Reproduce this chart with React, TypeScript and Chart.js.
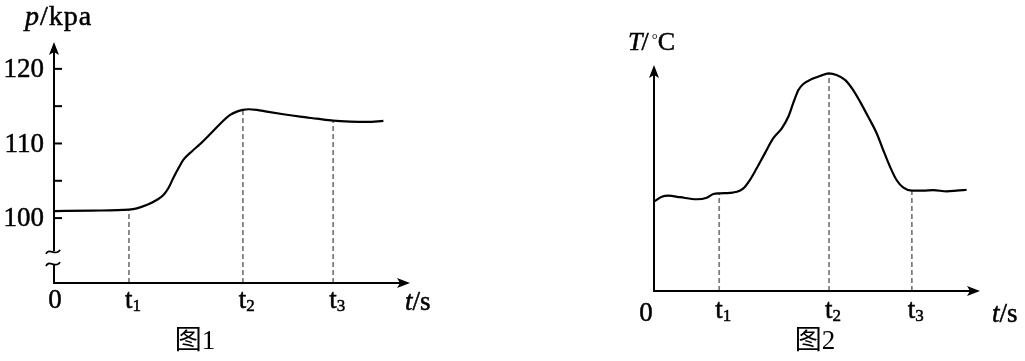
import React, { useEffect, useRef } from "react";
import { Chart, registerables } from "chart.js";

Chart.register(...registerables);

// ---------- Figure 1: pressure p (kPa) against time t (arbitrary units) ----------
const pTimes = [0, 1.0, 2.0, 2.21, 2.47, 2.74, 2.92, 3.05, 3.18, 3.32, 3.45, 3.67, 3.9, 4.17, 4.43, 4.7, 4.88, 5.04, 5.19, 5.41, 5.68, 6.12, 6.57, 7.01, 7.45, 7.9, 8.35, 8.79];
const pValues = [100.94, 101.0, 101.14, 101.3, 101.74, 102.42, 103.09, 103.99, 105.33, 106.67, 107.79, 108.9, 109.93, 111.28, 112.62, 113.83, 114.27, 114.5, 114.59, 114.5, 114.27, 113.92, 113.6, 113.33, 113.06, 112.93, 112.89, 113.02];
const pMarkTimes = [2.0, 5.04, 7.45];
const pMarkValues = [101.14, 114.5, 113.06];
const pTickValues = [100, 105, 110, 115, 120];
const pTickLabels = ["100", "", "110", "", "120"];
const pBreak = [95.6, 93.7];

// ---------- Figure 2: temperature T (arbitrary units) against time t ----------
const tTimes = [0, 0.24, 0.44, 0.8, 1.31, 1.62, 1.82, 2.02, 2.33, 2.54, 2.74, 2.94, 3.15, 3.4, 3.66, 3.92, 4.12, 4.27, 4.43, 4.58, 4.84, 5.09, 5.36, 5.6, 5.86, 6.11, 6.32, 6.57, 6.83, 7.03, 7.24, 7.44, 7.65, 7.91, 8.26, 8.57, 8.98, 9.28, 9.59];
const tValues = [39.6, 41.7, 42.2, 41.5, 40.6, 41.3, 42.9, 43.2, 43.4, 43.9, 45.4, 49.1, 54.3, 60.9, 67.6, 72.0, 77.1, 83.1, 88.9, 91.6, 93.8, 95.1, 96.3, 95.6, 93.4, 88.9, 83.8, 77.1, 69.8, 62.4, 55.0, 49.1, 45.7, 44.4, 44.4, 44.6, 44.1, 44.4, 44.8];
const tMarkTimes = [2.0, 5.37, 7.91];
const tMarkValues = [43.2, 96.3, 44.4];

const markNames = ["1", "2", "3"];

const SERIF = "'Liberation Serif', 'Times New Roman', serif";
const SERIF_CJK = "'Liberation Serif', 'Noto Sans CJK SC', serif";
const FS = 27;

type Fig = {
  xMin: number; xMax: number; yMin: number; yMax: number;
  times: number[]; values: number[]; markTimes: number[]; markValues: number[];
  ticks: number[]; tickLabels: string[]; brk: number[] | null;
  draw: (chart: any) => void;
};

// filled text with a hair stroke, to match the heavier print of the reference
function txt(ctx: CanvasRenderingContext2D, s: string, x: number, y: number) {
  ctx.fillText(s, x, y);
  ctx.save();
  ctx.lineWidth = 0.5;
  ctx.strokeStyle = "#000";
  ctx.strokeText(s, x, y);
  ctx.restore();
}

function arrow(ctx: CanvasRenderingContext2D, x: number, y: number, dir: "up" | "right") {
  const L = 13, W = 5, N = 3;
  ctx.beginPath();
  if (dir === "right") {
    ctx.moveTo(x, y); ctx.lineTo(x - L, y - W); ctx.lineTo(x - L + N, y); ctx.lineTo(x - L, y + W);
  } else {
    ctx.moveTo(x, y); ctx.lineTo(x - W, y + L); ctx.lineTo(x, y + L - N); ctx.lineTo(x + W, y + L);
  }
  ctx.closePath();
  ctx.fill();
}

function tilde(ctx: CanvasRenderingContext2D, x: number, y: number) {
  ctx.beginPath();
  ctx.moveTo(x - 7, y + 2);
  ctx.bezierCurveTo(x - 4, y - 5, x + 3, y + 5, x + 7, y - 2);
  ctx.stroke();
}

function tLabel(ctx: CanvasRenderingContext2D, x: number, base: number, sub: string) {
  ctx.textAlign = "left";
  ctx.textBaseline = "alphabetic";
  ctx.font = `${FS}px ${SERIF}`;
  txt(ctx, "t", x - 4, base);
  const w = ctx.measureText("t").width;
  ctx.font = `17px ${SERIF}`;
  txt(ctx, sub, x - 4 + w, base + 3);
}

function unitLabel(ctx: CanvasRenderingContext2D, x: number, base: number, italicPart: string, rest: string, size: number, spacing: number) {
  ctx.textAlign = "left";
  ctx.textBaseline = "alphabetic";
  (ctx as any).letterSpacing = `${spacing}px`;
  ctx.font = `italic ${size}px ${SERIF}`;
  txt(ctx, italicPart, x, base);
  const w = ctx.measureText(italicPart).width;
  ctx.font = `${size}px ${SERIF}`;
  txt(ctx, rest, x + w, base);
  (ctx as any).letterSpacing = "0px";
}

function drawAxes(chart: any, fig: Fig) {
  const ctx: CanvasRenderingContext2D = chart.ctx;
  const xs = chart.scales.x, ys = chart.scales.y;
  const x0 = xs.getPixelForValue(fig.xMin);
  const xEnd = xs.getPixelForValue(fig.xMax);
  const y0 = ys.getPixelForValue(fig.yMin);
  const yEnd = ys.getPixelForValue(fig.yMax);
  ctx.save();
  ctx.strokeStyle = "#000";
  ctx.fillStyle = "#000";
  ctx.lineWidth = 2;
  ctx.lineCap = "butt";
  ctx.beginPath();
  ctx.moveTo(x0 - 1, y0);
  ctx.lineTo(xEnd - 8, y0);
  ctx.stroke();
  arrow(ctx, xEnd, y0, "right");
  ctx.beginPath();
  if (fig.brk) {
    const b1 = ys.getPixelForValue(fig.brk[0]);
    const b2 = ys.getPixelForValue(fig.brk[1]);
    ctx.moveTo(x0, y0);
    ctx.lineTo(x0, b2);
    ctx.moveTo(x0, b1);
    ctx.lineTo(x0, yEnd + 8);
    ctx.stroke();
    ctx.lineWidth = 1.8;
    tilde(ctx, x0 - 1, b1 + 1);
    tilde(ctx, x0 - 1, b2 - 1);
  } else {
    ctx.moveTo(x0, y0);
    ctx.lineTo(x0, yEnd + 8);
    ctx.stroke();
  }
  arrow(ctx, x0, yEnd, "up");
  ctx.lineWidth = 2;
  fig.ticks.forEach((v, i) => {
    const y = ys.getPixelForValue(v);
    ctx.beginPath();
    ctx.moveTo(x0, y);
    ctx.lineTo(x0 + 8, y);
    ctx.stroke();
    if (fig.tickLabels[i]) {
      ctx.font = `${FS}px ${SERIF}`;
      ctx.textAlign = "right";
      ctx.textBaseline = "middle";
      txt(ctx, fig.tickLabels[i], x0 - 10, y + 1);
    }
  });
  ctx.restore();
}

const fig1: Fig = {
  xMin: 0, xMax: 9.5, yMin: 91.3, yMax: 123.6,
  times: pTimes, values: pValues, markTimes: pMarkTimes, markValues: pMarkValues,
  ticks: pTickValues, tickLabels: pTickLabels, brk: pBreak,
  draw: (chart: any) => {
    const ctx: CanvasRenderingContext2D = chart.ctx;
    const xs = chart.scales.x, ys = chart.scales.y;
    const left = xs.getPixelForValue(0);
    const right = xs.getPixelForValue(9.5);
    const bottom = ys.getPixelForValue(91.3);
    const top = ys.getPixelForValue(123.6);
    ctx.save();
    ctx.fillStyle = "#000";
    unitLabel(ctx, left - 29, top - 17, "p", "/kpa", 28, 1);
    ctx.font = `${FS}px ${SERIF}`;
    ctx.textAlign = "center";
    ctx.textBaseline = "alphabetic";
    txt(ctx, "0", left + 1, bottom + 25);
    pMarkTimes.forEach((t, i) => tLabel(ctx, xs.getPixelForValue(t), bottom + 25, markNames[i]));
    unitLabel(ctx, right - 5, bottom + 27, "t", "/s", FS, 0);
    ctx.font = `${FS}px ${SERIF_CJK}`;
    ctx.textAlign = "center";
    ctx.textBaseline = "middle";
    ctx.fillText("图1", left + 141, bottom + 59);
    ctx.restore();
  },
};

const fig2: Fig = {
  xMin: 0, xMax: 10, yMin: 0, yMax: 100,
  times: tTimes, values: tValues, markTimes: tMarkTimes, markValues: tMarkValues,
  ticks: [], tickLabels: [], brk: null,
  draw: (chart: any) => {
    const ctx: CanvasRenderingContext2D = chart.ctx;
    const xs = chart.scales.x, ys = chart.scales.y;
    const left = xs.getPixelForValue(0);
    const right = xs.getPixelForValue(10);
    const bottom = ys.getPixelForValue(0);
    const top = ys.getPixelForValue(100);
    ctx.save();
    ctx.fillStyle = "#000";
    // T/℃ drawn as italic T, slash, raised degree sign and serif C
    const tx = left - 26, tb = top - 15;
    ctx.textAlign = "left";
    ctx.textBaseline = "alphabetic";
    ctx.font = `italic 26px ${SERIF}`;
    txt(ctx, "T", tx, tb);
    let cx = tx + ctx.measureText("T").width;
    ctx.font = `26px ${SERIF}`;
    txt(ctx, "/", cx - 1, tb);
    cx += ctx.measureText("/").width;
    ctx.font = `15px ${SERIF}`;
    ctx.fillText("°", cx + 2, tb - 6);
    ctx.font = `26px ${SERIF}`;
    txt(ctx, "C", cx + 8, tb);
    ctx.font = `${FS}px ${SERIF}`;
    ctx.textAlign = "center";
    txt(ctx, "0", left - 8, bottom + 30);
    tMarkTimes.forEach((t, i) => tLabel(ctx, xs.getPixelForValue(t), bottom + 27, markNames[i]));
    unitLabel(ctx, right + 12, bottom + 31, "t", "/s", FS, 0);
    ctx.font = `${FS}px ${SERIF_CJK}`;
    ctx.textAlign = "center";
    ctx.textBaseline = "middle";
    ctx.fillText("图2", left + 161, bottom + 51);
    ctx.restore();
  },
};

function FigChart({ fig, width, height, padding, leftPos }: { fig: Fig; width: number; height: number; padding: any; leftPos: number }) {
  const ref = useRef<HTMLCanvasElement | null>(null);
  useEffect(() => {
    if (!ref.current) return;
    const curve = fig.times.map((t, i) => ({ x: t, y: fig.values[i] }));
    const dashSets = fig.markTimes.map((t, i) => ({
      data: [{ x: t, y: fig.yMin }, { x: t, y: fig.markValues[i] }],
      borderColor: "#7a7a7a",
      borderWidth: 1.7,
      borderDash: [5, 3],
      pointRadius: 0,
      tension: 0,
      order: 2,
    }));
    const chart = new Chart(ref.current, {
      type: "line",
      data: {
        datasets: [
          {
            data: curve,
            borderColor: "#000",
            borderWidth: 2.2,
            pointRadius: 0,
            cubicInterpolationMode: "monotone",
            order: 1,
          } as any,
          ...dashSets,
        ],
      },
      options: {
        responsive: false,
        maintainAspectRatio: false,
        animation: false,
        devicePixelRatio: 1,
        layout: { padding },
        plugins: { legend: { display: false }, tooltip: { enabled: false }, title: { display: false } },
        events: [],
        scales: {
          x: { type: "linear", min: fig.xMin, max: fig.xMax, display: false },
          y: { type: "linear", min: fig.yMin, max: fig.yMax, display: false },
        },
      },
      plugins: [
        {
          id: "sketchAxes",
          afterDatasetsDraw: (chart: any) => {
            drawAxes(chart, fig);
            fig.draw(chart);
          },
        },
      ],
    });
    return () => chart.destroy();
  }, []);
  return (
    <canvas
      ref={ref}
      width={width}
      height={height}
      style={{ position: "absolute", left: leftPos, top: 0, width, height }}
    />
  );
}

export default function App() {
  return (
    <div style={{ position: "absolute", left: 0, top: 0, width: 1025, height: 361, background: "#fff", overflow: "hidden" }}>
      <FigChart fig={fig1} width={512} height={361} leftPos={0} padding={{ left: 54, top: 42, right: 102, bottom: 78 }} />
      <FigChart fig={fig2} width={513} height={361} leftPos={512} padding={{ left: 142, top: 65, right: 45, bottom: 70 }} />
    </div>
  );
}
